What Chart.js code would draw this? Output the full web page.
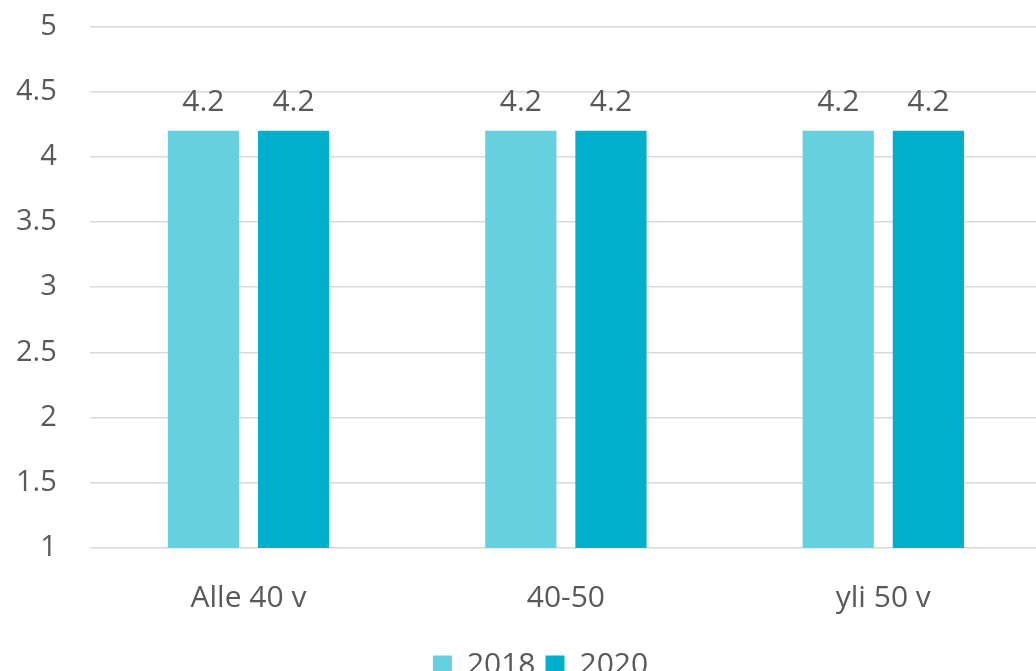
<!DOCTYPE html>
<html>
<head>
<meta charset="utf-8">
<script src="https://cdn.jsdelivr.net/npm/chart.js@4"></script>
<style>
  html, body { margin: 0; padding: 0; background: #fff; overflow: hidden; }
  #wrap { width: 1071px; height: 720px; position: relative; margin-left: -29px; margin-top: -24px; }
</style>
</head>
<body>
<div id="wrap"><canvas id="chart"></canvas></div>
<script>
const categories = ['Alle 40 v', '40-50', 'yli 50 v'];
const values2018 = [4.2, 4.2, 4.2];
const values2020 = [4.2, 4.2, 4.2];
const seriesNames = ['2018', '2020'];

const FONT = "'Open Sans', 'Noto Sans', sans-serif";
const TEXT = '#595959';

// draws the value above each bar
const valueLabels = {
  id: 'valueLabels',
  afterDatasetsDraw(chart) {
    const ctx = chart.ctx;
    ctx.save();
    ctx.font = '30px ' + FONT;
    ctx.fillStyle = TEXT;
    ctx.textAlign = 'center';
    ctx.textBaseline = 'alphabetic';
    chart.data.datasets.forEach((ds, i) => {
      chart.getDatasetMeta(i).data.forEach((bar, j) => {
        ctx.fillText(String(ds.data[j]), bar.x, bar.y - 20);
      });
    });
    ctx.restore();
  }
};

// legend in the original sits a bit right of centre
const legendShift = {
  id: 'legendShift',
  afterLayout(chart) {
    if (chart.legend) {
      chart.legend.left += 28;
      chart.legend.right += 28;
    }
  }
};

new Chart(document.getElementById('chart'), {
  type: 'bar',
  data: {
    labels: categories,
    datasets: [
      { label: seriesNames[0], data: values2018, backgroundColor: '#66d1de' },
      { label: seriesNames[1], data: values2020, backgroundColor: '#00b0ca' }
    ]
  },
  options: {
    responsive: true,
    maintainAspectRatio: false,
    animation: false,
    datasets: { bar: { categoryPercentage: 0.568, barPercentage: 0.79 } },
    layout: { padding: { left: 12, top: 0, right: 0, bottom: 6 } },
    scales: {
      x: {
        grid: { display: false },
        border: { display: false },
        ticks: { color: TEXT, font: { family: FONT, size: 30 }, padding: 24 }
      },
      y: {
        min: 1,
        max: 5,
        ticks: {
          stepSize: 0.5,
          color: TEXT,
          font: { family: FONT, size: 29 },
          padding: 33,
          callback: v => String(v)
        },
        grid: { color: '#d9d9d9', lineWidth: 1.5, drawTicks: false },
        border: { display: false }
      }
    },
    plugins: {
      legend: {
        position: 'bottom',
        labels: {
          color: TEXT,
          font: { family: FONT, size: 30 },
          boxWidth: 19,
          boxHeight: 19,
          padding: 10
        }
      },
      tooltip: { enabled: false }
    }
  },
  plugins: [valueLabels, legendShift]
});
</script>
</body>
</html>
